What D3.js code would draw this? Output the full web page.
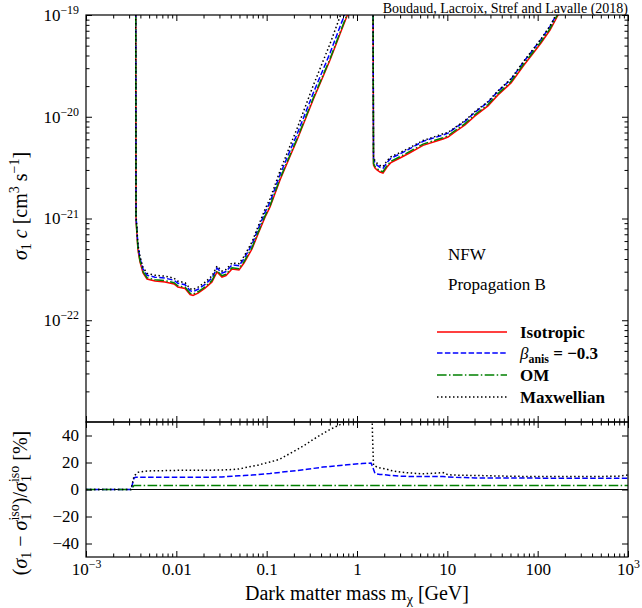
<!DOCTYPE html>
<html><head><meta charset="utf-8">
<script src="https://cdn.jsdelivr.net/npm/d3@7"></script>
<style>
body{margin:0;background:#fff}
svg{display:block}
text{font-family:"Liberation Serif","Times New Roman",serif;fill:#000}
</style>
</head><body>
<svg id="chart" width="642" height="608"></svg>
<script>
// ---------- DATA ----------
// Dark matter mass grid [GeV]
const mass = [0.001,0.00315,0.00340,0.00353,0.00358,0.00376,0.00396,0.00428,0.00474,0.00581,
  0.00749,0.00942,0.0104,0.0125,0.0142,0.0153,0.0174,0.0208,0.0248,0.0282,
  0.0320,0.0355,0.0413,0.0494,0.0561,0.0688,0.0802,0.0959,0.109,0.1405,
  0.181,0.217,0.280,0.326,0.421,0.503,0.648,0.775,0.903,1.137,
  1.43,1.485,1.523,1.583,1.665,1.797,1.941,2.149,2.38,2.993,
  3.765,5.381,8.96,10.17,12.16,15.69,20.25,28.2,36.4,50.7,
  70.6,84.4,108.9,137,163.8,186.1,490,756,1000];
// Isotropic limit sigma_1 c [cm^3 s^-1] (null = no limit inside the plotted range)
const sigmaIso = [null,null,null,1e-17,9.67e-22,4.90e-22,3.74e-22,2.91e-22,2.54e-22,2.43e-22,
  2.38e-22,2.27e-22,2.12e-22,2.05e-22,1.79e-22,1.75e-22,1.85e-22,2.07e-22,2.38e-22,2.98e-22,
  2.66e-22,2.75e-22,3.19e-22,3.12e-22,3.65e-22,5.01e-22,7.04e-22,1.03e-21,1.30e-21,2.39e-21,
  4.07e-21,5.91e-21,1.04e-20,1.46e-20,2.49e-20,3.61e-20,6.51e-20,9.77e-20,1.40e-19,2.31e-19,
  5e-19,1e-17,3.36e-21,3.14e-21,3.00e-21,2.86e-21,2.80e-21,3.21e-21,3.55e-21,3.93e-21,
  4.38e-21,5.23e-21,6.04e-21,6.32e-21,7.08e-21,8.30e-21,1.02e-20,1.28e-20,1.64e-20,2.15e-20,
  3.23e-20,3.95e-20,5.31e-20,7.12e-20,9.56e-20,1.17e-19,null,null,null];
// Relative difference to isotropic [%]
const ratioAniso = [0,0,8.5,9,9,9,9,9,9,9,
  9,9,9,9,9,9,9,9,9.1,9.2,
  9.3,9.5,9.8,10.1,10.3,10.7,11.0,11.5,11.8,12.7,
  13.5,14.0,15.0,15.6,16.6,17.1,17.8,18.3,18.7,19.2,
  19.6,17,15,11.8,11.5,11.2,11,10.7,10.4,9.8,
  9.7,9.6,9.6,9.3,9.0,8.8,8.6,8.6,8.5,8.5,
  8.5,8.5,8.4,8.4,8.4,8.4,8.4,8.4,8.4];
const ratioOM = [0,0,3,3,3,3,3,3,3,3,
  3,3,3,3,3,3,3,3,3,3,
  3,3,3,3,3,3,3,3,3,3,
  3,3,3,3,3,3,3,3,3,3,
  3,3,3,3,3,3,3,3,3,3,
  3,3,3,3,3,3,3,3,3,3,
  3,3,3,3,3,3,3,3,3];
const ratioMaxwell = [0,0,10,11,11.5,12.7,13,13.4,13.7,13.9,
  14,14.1,14.2,14.2,14.2,14.2,14.3,14.3,14.3,14.4,
  14.5,14.6,14.8,15.2,16.0,17.2,18.0,19.5,20.3,22.5,
  26.7,29.5,34,37,41.5,44.5,48,51,57,70,
  95,40,18,17.5,16.5,16,15.5,15,14,13,
  12.3,11.6,12.5,10.9,10.7,10.5,10.4,10.2,10.0,9.8,
  9.7,9.6,9.6,9.6,9.6,9.6,9.7,9.8,10.8];
const seriesNames = ["Isotropic","β_anis = −0.3","OM","Maxwellian"];
const seriesColors = ["#ff0000","#0000ff","#008000","#000000"];
const xMajorTicks = [1e-3,1e-2,1e-1,1,10,100,1000];
const xTickLabels = ["10^−3","0.01","0.1","1","10","100","10^3"];
const yTopMajor = [1e-22,1e-21,1e-20,1e-19];
const yTopLabels = ["10^−22","10^−21","10^−20","10^−19"];
const yBotTicks = [-40,-20,0,20,40];
const yBotLabels = ["−40","−20","0","20","40"];

// ---------- LAYOUT ----------
const L = 86, R = 628, T = 15, M = 422, B = 557;
const svg = d3.select("#chart");
const x = d3.scaleLog().domain([1e-3,1e3]).range([L,R]);
const yTop = d3.scaleLog().domain([1e-23,1e-19]).range([M,T]);
const yBot = d3.scaleLinear().domain([-50,50]).range([B,M]);

const xMinor = [];
for (let d=-3; d<3; d++) for (let k=2;k<10;k++) xMinor.push(k*Math.pow(10,d));
const yMinor = [];
for (let d=-23; d<-19; d++) for (let k=2;k<10;k++) yMinor.push(k*Math.pow(10,d));

const defs = svg.append("defs");
defs.append("clipPath").attr("id","clipTop").append("rect").attr("x",L).attr("y",T).attr("width",R-L).attr("height",M-T);
defs.append("clipPath").attr("id","clipBot").append("rect").attr("x",L).attr("y",M).attr("width",R-L).attr("height",B-M);

function rich(sel, parts, size){
  let off = 0;
  parts.forEach(p=>{
    const target = p.sup ? -0.4*size : (p.sub ? 0.22*size : 0);
    const ts = sel.append("tspan").text(p.t);
    if (Math.abs(target-off)>1e-6){ ts.attr("dy", target-off); off = target; }
    if (p.dx) ts.attr("dx", p.dx);
    if (p.sup || p.sub) ts.attr("font-size", (size*0.7)+"px");
    if (p.it) ts.attr("font-style","italic");
    if (p.b) ts.attr("font-weight","bold");
  });
}
function labelParts(s){
  const i = s.indexOf("^");
  if (i<0) return [{t:s}];
  return [{t:s.slice(0,i)},{t:s.slice(i+1),sup:true}];
}

const dashes = [null,"5.5,2.4","9.6,2.4,1.5,2.4","1.5,2.5"];
const data = mass.map((m,i)=>({m, s:sigmaIso[i], r:[0,ratioAniso[i],ratioOM[i],ratioMaxwell[i]]}));

// ---------- TOP PANEL ----------
const gTopLines = svg.append("g").attr("clip-path","url(#clipTop)");
for (let k=0;k<4;k++){
  const line = d3.line()
    .defined(d=>d.s!==null)
    .x(d=>x(d.m))
    .y(d=>yTop(d.s*(1+d.r[k]/100)));
  gTopLines.append("path").datum(data)
    .attr("d", line).attr("fill","none")
    .attr("stroke", seriesColors[k]).attr("stroke-width",1.5)
    .attr("stroke-dasharray", dashes[k]);
}

// ---------- BOTTOM PANEL ----------
svg.append("line").attr("x1",L).attr("x2",R).attr("y1",yBot(0)).attr("y2",yBot(0))
  .attr("stroke","#000").attr("stroke-width",1);
const gBotLines = svg.append("g").attr("clip-path","url(#clipBot)");
for (let k=1;k<4;k++){
  const line = d3.line().x(d=>x(d.m)).y(d=>yBot(d.r[k]));
  gBotLines.append("path").datum(data)
    .attr("d", line).attr("fill","none")
    .attr("stroke", seriesColors[k]).attr("stroke-width",1.5)
    .attr("stroke-dasharray", dashes[k]);
}

// ---------- AXES ----------
function addAxis(axis, tx, ty, values, size, labels, pad){
  const g = svg.append("g").attr("transform",`translate(${tx},${ty})`)
    .call(axis.tickValues(values).tickSizeInner(-size).tickSizeOuter(0).tickPadding(pad||6)
      .tickFormat(labels ? ((d,i)=>labels[i]) : ()=>""));
  g.select(".domain").remove();
  g.selectAll(".tick line").attr("stroke","#000").attr("stroke-width",1);
  g.selectAll(".tick text").style("font-family",'"Liberation Serif",serif').attr("font-size","17px");
  if (labels){
    g.selectAll(".tick text").each(function(d,i){
      const t = d3.select(this); const s = labels[i]; t.text(null);
      rich(t, labelParts(s), 17);
    });
  }
  return g;
}
// top panel
addAxis(d3.axisTop(x), 0, T, xMajorTicks, 6);
addAxis(d3.axisTop(x), 0, T, xMinor, 3.5);
addAxis(d3.axisBottom(x), 0, M, xMajorTicks, 6);
addAxis(d3.axisBottom(x), 0, M, xMinor, 3.5);
addAxis(d3.axisLeft(yTop), L, 0, yTopMajor, 6, yTopLabels, 7);
addAxis(d3.axisLeft(yTop), L, 0, yMinor, 3.5);
addAxis(d3.axisRight(yTop), R, 0, yTopMajor, 6);
addAxis(d3.axisRight(yTop), R, 0, yMinor, 3.5);
// bottom panel
addAxis(d3.axisTop(x), 0, M, xMajorTicks, 6);
addAxis(d3.axisTop(x), 0, M, xMinor, 3.5);
addAxis(d3.axisBottom(x), 0, B, xMajorTicks, 6, xTickLabels, 6);
addAxis(d3.axisBottom(x), 0, B, xMinor, 3.5);
addAxis(d3.axisLeft(yBot), L, 0, yBotTicks, 6, yBotLabels, 7);
addAxis(d3.axisRight(yBot), R, 0, yBotTicks, 6);

// frames
svg.append("rect").attr("x",L).attr("y",T).attr("width",R-L).attr("height",M-T)
  .attr("fill","none").attr("stroke","#000").attr("stroke-width",1.2);
svg.append("rect").attr("x",L).attr("y",M).attr("width",R-L).attr("height",B-M)
  .attr("fill","none").attr("stroke","#000").attr("stroke-width",1.2);

// ---------- TEXT ----------
svg.append("text").attr("x",R).attr("y",12.5).attr("text-anchor","end").attr("font-size","14px")
  .text("Boudaud, Lacroix, Stref and Lavalle (2018)");
svg.append("text").attr("x",448).attr("y",260).attr("font-size","17px").text("NFW");
svg.append("text").attr("x",448).attr("y",290).attr("font-size","17px").text("Propagation B");

// axis titles
const xt = svg.append("text").attr("x",(L+R)/2).attr("y",600).attr("text-anchor","middle").attr("font-size","20px");
rich(xt,[{t:"Dark matter mass m"},{t:"χ",sub:true},{t:" [GeV]"}],20);

const yt1 = svg.append("text").attr("transform","translate(27,206) rotate(-90)").attr("text-anchor","middle").attr("font-size","20px");
rich(yt1,[{t:"σ",it:true},{t:"1",sub:true},{t:" c",it:true},{t:" [cm"},{t:"3",sup:true},{t:" s"},{t:"−1",sup:true},{t:"]"}],20);

const yt2 = svg.append("text").attr("transform","translate(27,503) rotate(-90)").attr("text-anchor","middle").attr("font-size","20px");
rich(yt2,[{t:"("},{t:"σ",it:true},{t:"1",sub:true},{t:" − "},{t:"σ",it:true},{t:"1",sub:true},{t:"iso",sup:true,dx:-7},
  {t:")/"},{t:"σ",it:true},{t:"1",sub:true},{t:"iso",sup:true,dx:-7},{t:" [%]"}],20);

// ---------- LEGEND ----------
const legY = [332,353,375,397];
const lg = svg.append("g");
seriesNames.forEach((name,k)=>{
  lg.append("line").attr("x1",437).attr("x2",507).attr("y1",legY[k]).attr("y2",legY[k])
    .attr("stroke",seriesColors[k]).attr("stroke-width",1.5).attr("stroke-dasharray",dashes[k]);
  const t = lg.append("text").attr("x",520).attr("y",legY[k]+6).attr("font-size","17px");
  if (k===1){
    rich(t,[{t:"β",it:true},{t:"anis",sub:true,b:true},{t:" = −0.3",b:true}],17);
  } else {
    t.attr("font-weight","bold").text(name);
  }
});
</script>
</body></html>
